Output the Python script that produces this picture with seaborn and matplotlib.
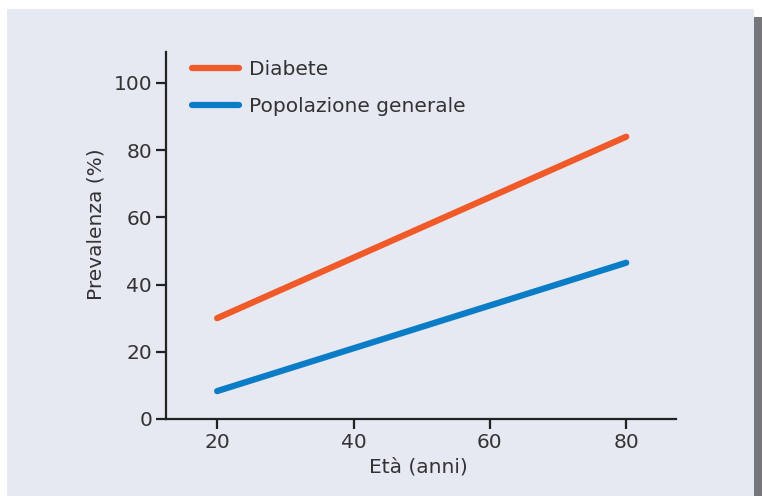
import matplotlib
matplotlib.use("Agg")
import matplotlib.pyplot as plt
from matplotlib.patches import Rectangle
import seaborn as sns
import pandas as pd

eta = [20, 80]
diabete = [30, 84]
popolazione = [8.3, 46.5]
series_names = ["Diabete", "Popolazione generale"]
colors = ["#f05a28", "#0a7dc6"]
y_ticks = [0, 20, 40, 60, 80, 100]
x_ticks = [20, 40, 60, 80]

df = pd.DataFrame({
    "eta": eta + eta,
    "val": diabete + popolazione,
    "serie": [series_names[0]] * len(eta) + [series_names[1]] * len(eta),
})

sns.set_style("ticks")
plt.rcParams['font.family'] = ['DejaVu Sans']

W, H = 762, 496
FS = 14.5
fig = plt.figure(figsize=(W / 100, H / 100), dpi=100, facecolor="white")
fig.patches.append(Rectangle((7 / W, 0), (754 - 7) / W, (H - 9) / H,
                             transform=fig.transFigure, facecolor="#e6e8f2",
                             edgecolor="none", zorder=-10))
fig.patches.append(Rectangle((754 / W, 0), 8 / W, (H - 17) / H,
                             transform=fig.transFigure, facecolor="#76777c",
                             edgecolor="none", zorder=-10))

ax = fig.add_axes([166 / W, (H - 419) / H, (676 - 166) / W, (419 - 52) / H])
ax.set_facecolor("none")
ax.set_zorder(5)

sns.lineplot(data=df, x="eta", y="val", hue="serie", palette=colors,
             linewidth=4.5, ax=ax, solid_capstyle="round", legend=True)

ax.set_xlim(12.5, 87.3)
ax.set_ylim(0, 109.2)
ax.set_xticks(x_ticks)
ax.set_yticks(y_ticks)

txt = "#333333"
for s in ["top", "right"]:
    ax.spines[s].set_visible(False)
for s in ["left", "bottom"]:
    ax.spines[s].set_color("#222222")
    ax.spines[s].set_linewidth(1.6)
ax.tick_params(axis="both", colors="#222222", width=1.6, length=7,
               labelsize=FS, labelcolor=txt, pad=3)

ax.set_xlabel("Età (anni)", fontsize=FS, color=txt, labelpad=4)
ax.set_ylabel("Prevalenza (%)", fontsize=FS, color=txt, labelpad=10)
ax.xaxis.set_label_coords(0.495, -0.105)
ax.yaxis.set_label_coords(-0.118, 0.53)

leg = ax.legend(loc="upper left", frameon=False, fontsize=FS,
                handlelength=2.35, handletextpad=0.5, labelspacing=0.9,
                borderaxespad=0, bbox_to_anchor=(0.035, 1.0))
for t in leg.get_texts():
    t.set_color(txt)
for l in leg.get_lines():
    l.set_linewidth(4.5)
    l.set_solid_capstyle("round")

fig.savefig("out.png", dpi=100, facecolor="white")
